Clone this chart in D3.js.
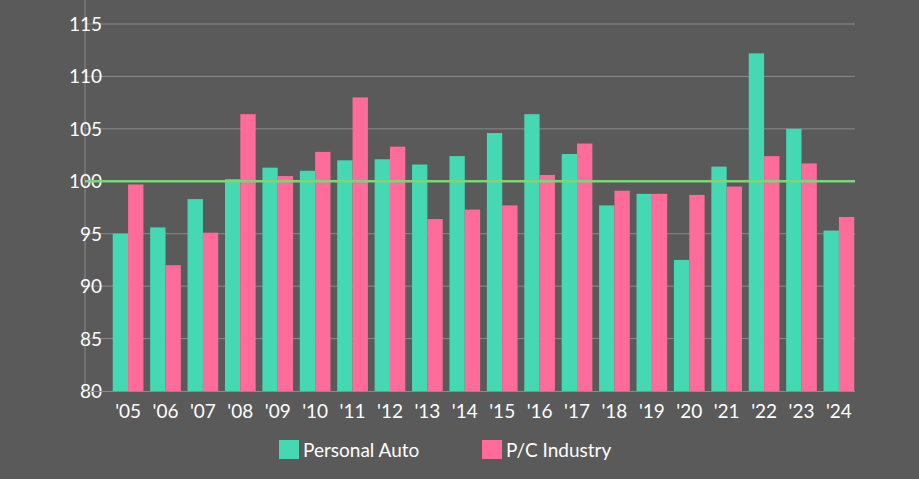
<!DOCTYPE html><html><head><meta charset="utf-8">
<script src="https://cdn.jsdelivr.net/npm/d3@7"></script>
<style>body{margin:0;background:#5a5a5a}svg{display:block}</style></head><body>
<svg id="c" width="919" height="479"></svg>
<script>
const categories=["'05","'06","'07","'08","'09","'10","'11","'12","'13","'14","'15","'16","'17","'18","'19","'20","'21","'22","'23","'24"];
const personalAuto=[95.0,95.6,98.3,100.2,101.3,101.0,102.0,102.1,101.6,102.4,104.6,106.4,102.6,97.7,98.8,92.5,101.4,112.2,105.0,95.3];
const pcIndustry=[99.7,92.0,95.1,106.4,100.5,102.8,108.0,103.3,96.4,97.3,97.7,100.6,103.6,99.1,98.8,98.7,99.5,102.4,101.7,96.6];
const yTicks=[80,85,90,95,100,105,110,115];
const svg=d3.select("#c");
const font="Lato, 'Open Sans', sans-serif";
const y=d3.scaleLinear().domain([80,115]).range([391,24]);
const x=d3.scaleBand().domain(categories).range([112,855]).paddingInner(0.18).paddingOuter(0.02);
const x1=d3.scaleBand().domain([0,1]).range([0,x.bandwidth()]);
svg.append("g").selectAll("line").data(yTicks.filter(d=>d!==80)).join("line")
 .attr("x1",85).attr("x2",855).attr("y1",d=>y(d)).attr("y2",d=>y(d)).attr("stroke","#8a8a8a").attr("stroke-width",1);
svg.append("line").attr("x1",85).attr("x2",85).attr("y1",0).attr("y2",391).attr("stroke","#8a8a8a");
svg.append("g").selectAll("text").data(yTicks).join("text")
 .attr("x",102).attr("y",d=>y(d)+7).attr("text-anchor","end").attr("fill","#fff").attr("font-family",font).attr("font-size",19).text(d=>d);
const g=svg.append("g");
[[personalAuto,"#45d9b3",0],[pcIndustry,"#ff6b9a",1]].forEach(([arr,col,i])=>{
 g.selectAll(null).data(arr).join("rect").attr("x",(d,j)=>x(categories[j])+x1(i)).attr("width",x1.bandwidth())
  .attr("y",d=>y(d)).attr("height",d=>y(80)-y(d)).attr("fill",col);
});
svg.append("line").attr("x1",85).attr("x2",855).attr("y1",y(100)).attr("y2",y(100)).attr("stroke","#7ed47e").attr("stroke-width",2.5);
svg.append("line").attr("x1",85).attr("x2",855).attr("y1",391.5).attr("y2",391.5).attr("stroke","#8a8a8a");
svg.append("g").selectAll("text").data(categories).join("text")
 .attr("x",d=>x(d)+x.bandwidth()/2).attr("y",418).attr("text-anchor","middle").attr("fill","#fff").attr("font-family",font).attr("font-size",19).text(d=>d);
const leg=[["Personal Auto","#45d9b3",279],["P/C Industry","#ff6b9a",482]];
leg.forEach(([t,c,lx])=>{
 svg.append("rect").attr("x",lx).attr("y",440).attr("width",20).attr("height",19).attr("fill",c);
 svg.append("text").attr("x",lx+24).attr("y",457).attr("fill","#fff").attr("font-family",font).attr("font-size",19).text(t);
});
</script></body></html>
